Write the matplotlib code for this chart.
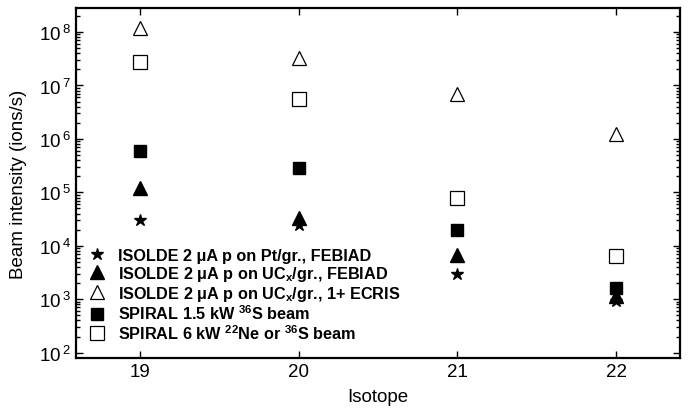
import numpy as np
import matplotlib
matplotlib.use("Agg")
import matplotlib.pyplot as plt
from matplotlib.ticker import FixedLocator, NullFormatter, FuncFormatter

plt.rcParams['font.family'] = ['Liberation Sans', 'DejaVu Sans']
plt.rcParams['mathtext.fontset'] = 'custom'
plt.rcParams['mathtext.rm'] = 'Liberation Sans'
plt.rcParams['mathtext.bf'] = 'Liberation Sans:bold'

isotopes = [19, 20, 21, 22]
pt_febiad = [3.0e4, 2.4e4, 3.0e3, 9.2e2]
ucx_febiad = [1.2e5, 3.3e4, 6.8e3, 1.15e3]
ucx_ecris = [1.2e8, 3.2e7, 6.8e6, 1.25e6]
spiral_15 = [6.0e5, 2.8e5, 2.0e4, 1.6e3]
spiral_6 = [2.8e7, 5.5e6, 8.0e4, 6.4e3]

labels = [
    r"ISOLDE 2 μA p on Pt/gr., FEBIAD",
    r"ISOLDE 2 μA p on UC$\mathbf{_x}$/gr., FEBIAD",
    r"ISOLDE 2 μA p on UC$\mathbf{_x}$/gr., 1+ ECRIS",
    r"SPIRAL 1.5 kW $\mathbf{^{36}}$S beam",
    r"SPIRAL 6 kW $\mathbf{^{22}}$Ne or $\mathbf{^{36}}$S beam",
]

decades = np.arange(2, 9)

fig = plt.figure(figsize=(6.88, 4.10), dpi=100)
ax = fig.add_axes([76/688, 51/410, 604/688, 350/410])

ax.plot(isotopes, pt_febiad, '*', color='k', ms=9, ls='none', label=labels[0])
ax.plot(isotopes, ucx_febiad, '^', color='k', ms=9.5, ls='none', label=labels[1])
ax.plot(isotopes, ucx_ecris, '^', mfc='white', mec='k', mew=0.9, ms=10.5, ls='none', label=labels[2])
ax.plot(isotopes, spiral_15, 's', color='k', ms=9, ls='none', label=labels[3])
ax.plot(isotopes, spiral_6, 's', mfc='white', mec='k', mew=0.9, ms=9.5, ls='none', label=labels[4])

ax.set_yscale('log')
ax.set_xlim(18.6, 22.4)
ax.set_ylim(10**1.9, 10**8.45)
ax.xaxis.set_major_locator(FixedLocator(isotopes))
ax.yaxis.set_major_locator(FixedLocator(10.0**decades))
ax.yaxis.set_major_formatter(FuncFormatter(lambda v, p: r"$\mathregular{10^{\,%d}}$" % round(np.log10(v))))
minors = [m * 10.0**d for d in decades for m in range(2, 10) if m * 10.0**d < 10**8.45]
ax.yaxis.set_minor_locator(FixedLocator(minors))
ax.yaxis.set_minor_formatter(NullFormatter())

ax.tick_params(which='both', direction='in', top=True, right=True, width=1)
ax.tick_params(which='major', length=5, labelsize=13.5)
ax.tick_params(which='minor', length=3)
ax.tick_params(axis='x', which='minor', top=False, bottom=False)
for sp in ax.spines.values():
    sp.set_linewidth(1.6)

ax.set_xlabel('Isotope', fontsize=13.5, labelpad=6)
ax.set_ylabel('Beam intensity (ions/s)', fontsize=13.5, labelpad=9)

leg = ax.legend(loc='lower left', frameon=False, prop={'weight': 'bold', 'size': 11.7},
                handlelength=1.0, handletextpad=0.75, labelspacing=0.05,
                borderaxespad=0.6, bbox_to_anchor=(-0.005, 0.0))

fig.savefig('out.png', dpi=100)
